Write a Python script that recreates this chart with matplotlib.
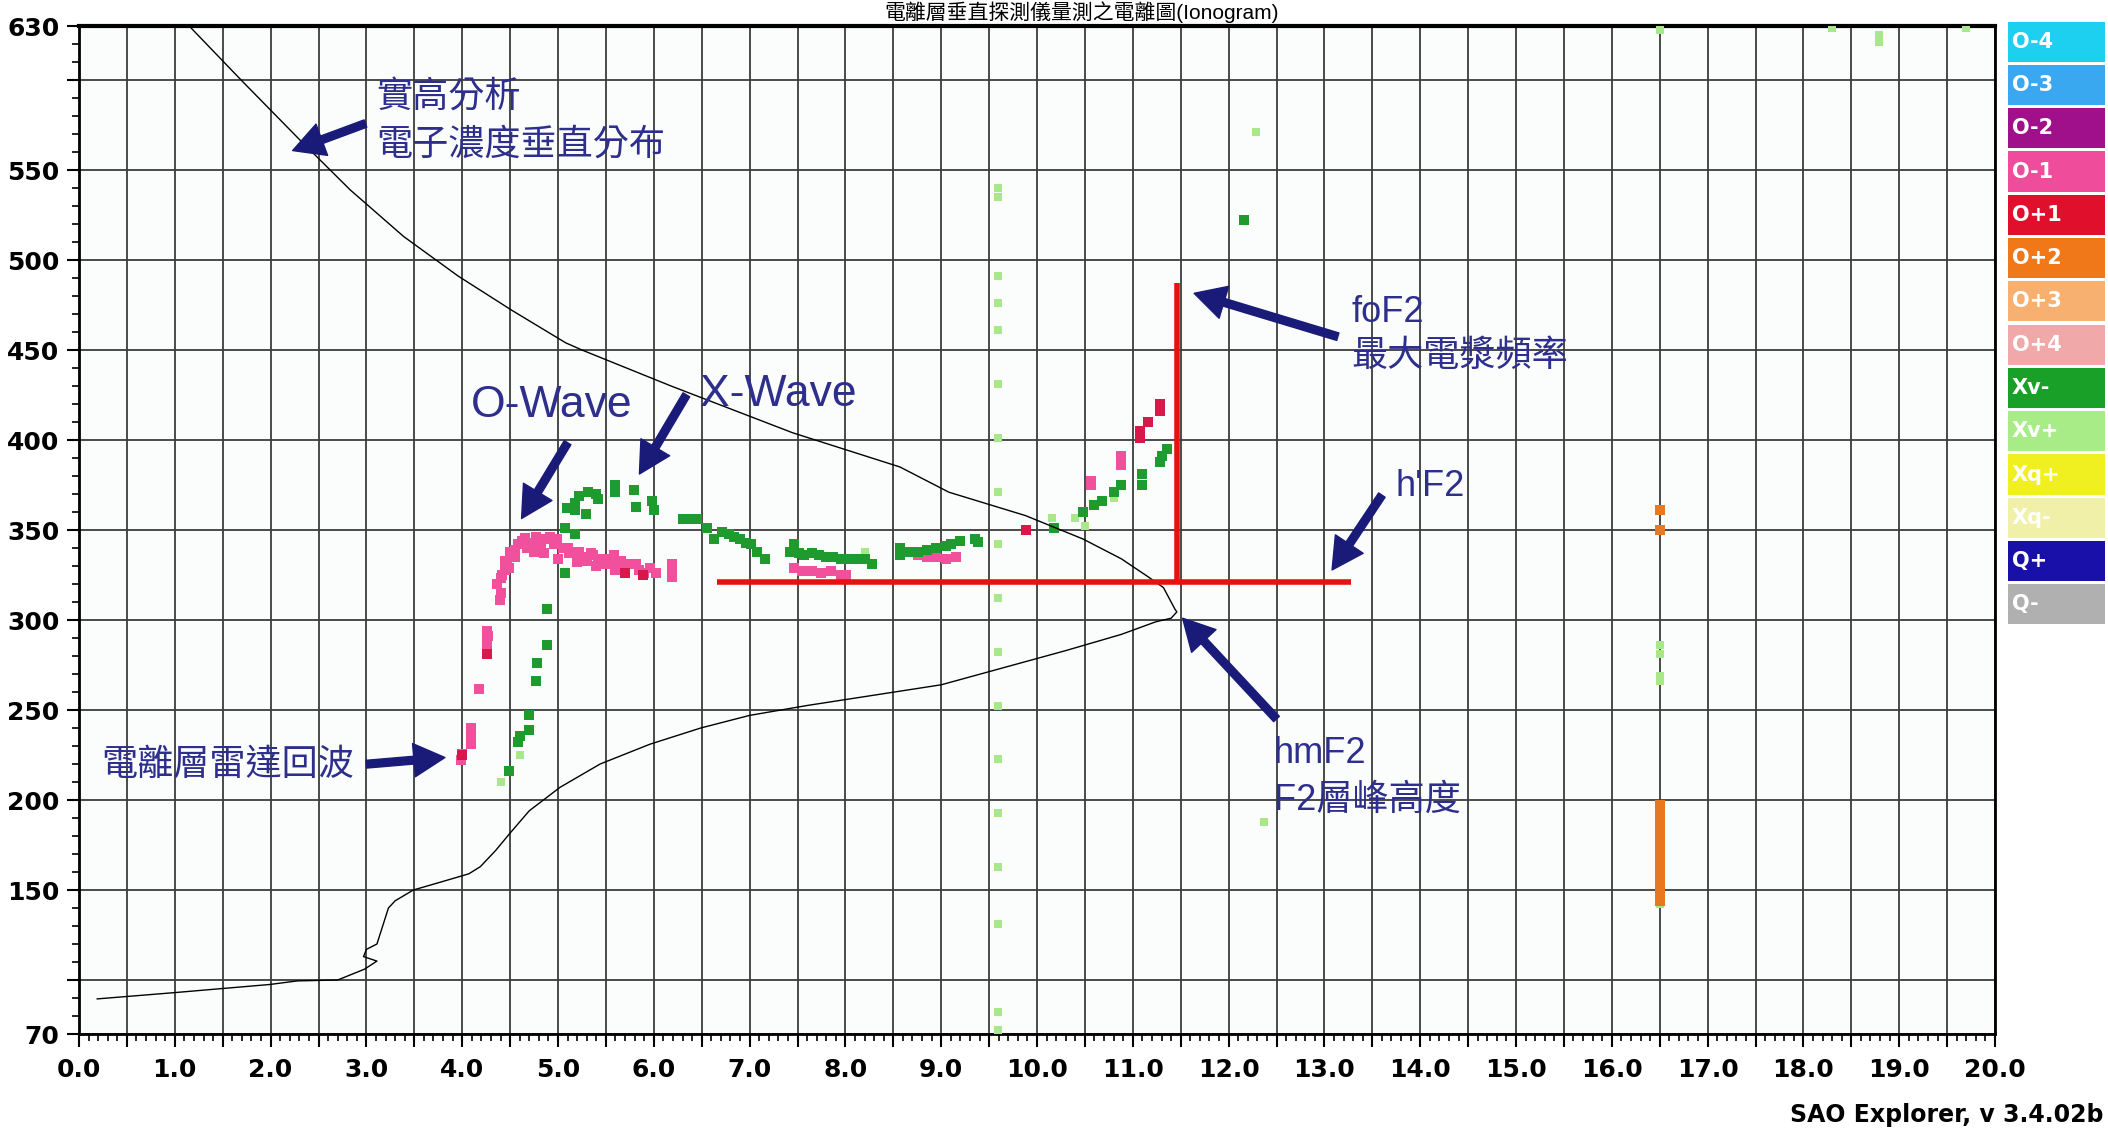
import matplotlib
matplotlib.use("Agg")
import matplotlib.pyplot as plt
from matplotlib.ticker import MultipleLocator, FixedLocator

# ---- data ----
profile_f = [1.15, 1.71, 2.30, 2.83, 3.39, 3.96, 4.52, 5.08, 5.25, 6.18, 7.45, 8.57, 9.08, 9.88,
             10.48, 10.88, 11.16, 11.32, 11.44, 11.46, 11.40, 11.24, 10.88, 10.30, 9.00, 7.60,
             7.00, 6.49, 5.96, 5.44, 5.02, 4.70, 4.49, 4.35, 4.19, 4.07, 3.75, 3.49, 3.30, 3.23,
             3.11, 3.00, 2.97, 3.11, 2.98, 2.70, 2.28, 1.99, 1.00, 0.19]
profile_h = [630, 599, 567, 539, 513, 491, 472, 454, 450, 430, 404, 385, 371, 358,
             345, 334, 324, 318, 306, 304.5, 301, 299, 292, 283, 264, 252.5,
             247, 240, 231, 220, 207, 194, 181, 172, 163, 159, 154, 150, 144, 140,
             120, 117, 113, 110.5, 106, 100, 99.5, 97.5, 93, 89.5]

# O-1 (pink) echoes
o_f = [3.99, 4.00, 4.09, 4.09, 4.09, 4.18, 4.26, 4.26, 4.26, 4.27, 4.26, 4.39, 4.36, 4.41, 4.42,
       4.45, 4.47, 4.49, 4.51, 4.55, 4.58, 4.62, 4.66, 4.72, 4.77, 4.82, 4.87, 4.92, 4.96, 4.99,
       5.05, 5.10, 5.12, 5.18, 5.22, 5.26, 5.30, 5.34, 5.37, 5.42, 5.46, 5.51, 5.55, 5.58, 5.62,
       5.66, 5.70, 5.75, 5.81, 5.85, 5.90, 5.96, 6.02, 6.19, 6.19, 6.19, 7.46, 7.55, 7.65, 7.75,
       7.85, 7.95, 8.01, 8.76, 8.85, 8.95, 9.05, 9.15, 10.56, 10.56, 10.88, 10.88,
       4.40, 4.45, 4.50, 4.55, 4.68, 4.75, 4.85, 5.00, 5.20, 5.40, 5.60]
o_h = [222, 225.5, 231, 234.7, 240, 261.6, 281, 285, 288.5, 291, 294, 311, 320, 323.4, 325,
       328, 331, 329, 336, 339, 342, 344, 345.4, 343, 346, 343, 345, 346, 342, 345,
       340, 340, 337, 338, 338, 335, 333, 337, 336, 334, 331, 334, 331, 336, 330,
       333, 329, 331, 331, 328, 326, 329, 326, 331, 327, 324, 329, 327, 327, 326,
       327, 325, 325, 336, 335, 335, 334, 335, 375, 377, 386, 391,
       315, 333, 338, 335, 340, 338, 337, 334, 332, 330, 328]

# O+1 (red) echoes
r_f = [4.00, 4.26, 5.89, 5.70, 9.88, 11.08, 11.08, 11.16, 11.28, 11.28]
r_h = [225, 281, 325, 326, 350, 401, 405, 410, 416, 420]

# Xv- (green) echoes
g_f = [4.49, 4.58, 4.60, 4.70, 4.70, 4.77, 4.78, 4.89, 4.88, 5.07, 5.07, 5.18, 5.09, 5.18, 5.18,
       5.22, 5.29, 5.31, 5.40, 5.42, 5.59, 5.59, 5.79, 5.81, 5.98, 6.00, 6.30, 6.38, 6.45, 6.56,
       6.63, 6.71, 6.78, 6.84, 6.90, 6.96, 7.01, 7.08, 7.16, 7.42, 7.46, 7.52, 7.57, 7.65, 7.72,
       7.80, 7.87, 7.95, 8.01, 8.10, 8.20, 8.28, 8.57, 8.57, 8.65, 8.76, 8.85, 8.95, 9.05, 9.10,
       9.20, 9.35, 9.38, 10.18, 10.48, 10.60, 10.68, 10.80, 10.88, 11.10, 11.10, 11.28, 11.30,
       11.36, 12.16]
g_h = [216, 232, 235.6, 239, 247, 266, 276, 286, 306, 326, 351, 348, 362, 361, 365,
       369, 359, 371, 370, 367, 375, 371, 372, 363, 366, 361, 356, 356, 356, 351,
       345, 349, 348, 346, 345, 343, 342, 338, 334, 338, 342, 337, 336, 337, 336,
       335, 335, 334, 334, 334, 334, 331, 336, 340, 338, 338, 339, 340, 341, 342,
       344, 345, 343.5, 351, 360, 364, 366, 371, 375, 381, 375, 388, 391,
       395, 522]

# Xv+ (light green) echoes
lg_f = [4.40, 4.60, 8.20, 10.16, 10.40, 10.50, 10.80,
        9.59, 9.59, 9.59, 9.59, 9.59, 9.59, 9.59, 9.59, 9.59, 9.59, 9.59, 9.59, 9.59, 9.59,
        9.59, 9.59, 9.59, 9.59,
        16.5, 16.5, 16.5, 16.5, 16.5, 16.5, 16.5,
        12.29, 12.37, 18.30, 18.79, 18.79, 19.70]
lg_h = [210, 225, 338, 356.5, 356.5, 352, 368,
        540, 535, 491, 476, 461, 431, 401, 371, 342, 312, 282, 252, 223, 193,
        163, 131, 82, 72,
        628, 286, 281, 269, 266, 165, 142,
        571, 188, 629, 625, 621, 629]

# O+2 (orange) echoes
or_f = [16.5] * 20
or_h = [361, 350, 197, 194, 191, 188, 185, 182, 179, 176, 173, 170, 168,
        162, 159, 156, 153, 150, 147, 144]

# foF2 / h'F2 scaling lines
fof2 = 11.46
hf2 = 321
hf2_span = [6.66, 13.28]
fof2_top = 487

x_ticks = [i * 0.5 for i in range(41)]
y_ticks = [70] + list(range(100, 601, 50)) + [630]

legend_labels = ["O-4", "O-3", "O-2", "O-1", "O+1", "O+2", "O+3", "O+4",
                 "Xv-", "Xv+", "Xq+", "Xq-", "Q+", "Q-"]
legend_colors = ["#1ED0F0", "#3AA8F0", "#A0108A", "#F04C9C", "#E0102C", "#F07818", "#F8B070",
                 "#F0A8A8", "#18A028", "#A8EC88", "#F0F020", "#F0F0A8", "#1810A8", "#B0B0B0"]

navy_text = "#2E2E8C"
navy = "#1A1A78"
tick_font = ["DejaVu Sans"]
cjk_font = ["Liberation Sans", "Noto Sans CJK TC", "DejaVu Sans"]

W, H = 2108, 1131
fig = plt.figure(figsize=(W / 100, H / 100), dpi=100)
fig.patch.set_facecolor("white")

ax = fig.add_axes([79 / W, (H - 1034) / H, (1995 - 79) / W, (1034 - 26) / H])
ax.set_xlim(0, 20)
ax.set_ylim(70, 630)
ax.set_facecolor("#FBFDFD")

# ticks and grid
ax.xaxis.set_major_locator(FixedLocator(x_ticks))
ax.xaxis.set_minor_locator(MultipleLocator(0.1))
ax.set_xticklabels(["%.1f" % v if v == int(v) else "" for v in x_ticks])
ax.yaxis.set_major_locator(FixedLocator(y_ticks))
ax.yaxis.set_minor_locator(MultipleLocator(10))
ax.set_yticklabels(["" if v in (100, 600) else str(v) for v in y_ticks])
ax.tick_params(which="major", length=9, width=1.5, color="black", direction="out")
ax.tick_params(axis="x", which="major", pad=8)
ax.tick_params(axis="y", which="major", pad=5)
ax.tick_params(which="minor", length=5, width=1.2, color="black", direction="out")
for lab in ax.get_xticklabels() + ax.get_yticklabels():
    lab.set_family(tick_font)
    lab.set_fontweight("bold")
    lab.set_fontsize(18)
ax.grid(True, which="major", color="#3C3C3C", lw=1.3)
for s in ax.spines.values():
    s.set_linewidth(2.0)
    s.set_color("black")
ax.spines["top"].set_linewidth(3.0)

# echoes
ax.scatter(lg_f, lg_h, marker="s", s=36, color="#A8E888", lw=0, zorder=3)
ax.scatter(o_f, o_h, marker="s", s=50, color="#F0509C", lw=0, zorder=3)
ax.scatter(g_f, g_h, marker="s", s=46, color="#1E9A2E", lw=0, zorder=4)
ax.scatter(r_f, r_h, marker="s", s=42, color="#D8184A", lw=0, zorder=4)
ax.scatter(or_f, or_h, marker="s", s=50, color="#E87820", lw=0, zorder=3)

# electron density profile
ax.plot(profile_f, profile_h, color="black", lw=1.0, zorder=5)

# foF2 and h'F2
ax.plot(hf2_span, [hf2, hf2], color="#E81010", lw=4, solid_capstyle="butt", zorder=6)
ax.plot([fof2, fof2], [hf2, fof2_top], color="#E81010", lw=4, solid_capstyle="butt", zorder=6)

# annotations
arrow = dict(arrowstyle="simple,head_width=1.5,head_length=1.4,tail_width=0.35",
             mutation_scale=16, color=navy, shrinkA=0, shrinkB=0)
arrows = [((2.99, 575.8), (2.23, 560.8)),
          ((3.00, 219.9), (3.82, 223.6)),
          ((5.10, 398.5), (4.62, 356.4)),
          ((6.34, 425.1), (5.85, 381.1)),
          ((13.14, 457.4), (11.64, 481.5)),
          ((13.60, 369.4), (13.08, 327.8)),
          ((12.50, 245.0), (11.52, 301.0))]
for tail, head in arrows:
    ax.annotate("", xy=head, xytext=tail, arrowprops=arrow, zorder=7)

texts = [(3.10, 590.7, "實高分析", 26),
         (3.10, 563.9, "電子濃度垂直分布", 26),
         (0.23, 219.0, "電離層雷達回波", 26),
         (4.09, 419.0, "O-Wave", 32),
         (6.48, 425.0, "X-Wave", 32),
         (13.28, 471.0, "foF2", 26),
         (13.28, 446.7, "最大電漿頻率", 26),
         (13.74, 374.0, "h'F2", 26),
         (12.47, 226.0, "hmF2", 26),
         (12.47, 200.0, "F2層峰高度", 26)]
for x, y, t, fs in texts:
    ax.text(x, y, t, color=navy_text, fontsize=fs, family=cjk_font,
            ha="left", va="center", zorder=8)

# colour key on the right
lax = fig.add_axes([2008 / W, (H - 626) / H, 97 / W, 606 / H])
n = len(legend_labels)
lax.barh(range(n), [1] * n, height=0.93, left=0, color=legend_colors)
for i, lab in enumerate(legend_labels):
    lax.text(0.04, i, lab, color="white", fontsize=15, family=tick_font,
             fontweight="bold", va="center", ha="left")
lax.set_xlim(0, 1)
lax.set_ylim(n - 0.5, -0.5)
lax.axis("off")

# title squeezed into the strip above the plot, and version string
fig.text(1082 / W, 1 - 1 / H, "電離層垂直探測儀量測之電離圖(Ionogram)", fontsize=15,
         family=cjk_font, ha="center", va="top", color="black")
fig.text(2103 / W, 16 / H, "SAO Explorer, v 3.4.02b", fontsize=17, family=tick_font,
         fontweight="bold", ha="right", va="center", color="black")

fig.savefig("out.png", dpi=100)
